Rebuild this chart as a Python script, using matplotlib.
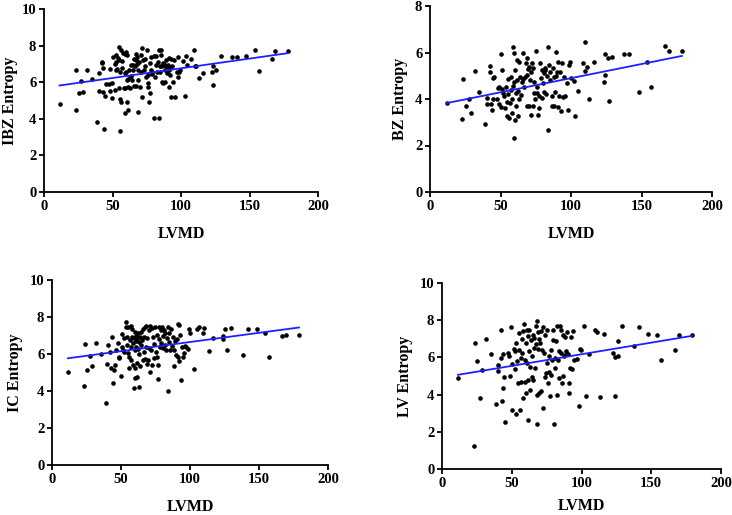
import matplotlib
matplotlib.use("Agg")
import matplotlib.pyplot as plt
import numpy as np

# ---------------- data ----------------
ibz_x = [11.4, 23, 23.4, 25.3, 27.3, 28.7, 31.6, 35, 39, 40, 40, 42, 42.6, 43.3, 43.5, 43.3, 44.3, 45, 47.2, 48,
         48.2, 49.4, 49.9, 50.6, 51.8, 52, 52.3, 52.5, 52.8, 53.3, 54.3, 54.5, 54.7, 55, 55.2, 55.7, 55.7, 56, 56.2, 56.7,
         57, 57.7, 58.2, 58.9, 58.9, 59.1, 59.4, 59.6, 60.1, 60.3, 60.8, 60.8, 61, 61.3, 61.6, 62, 62.5, 62.8, 63.3, 63.7,
         64.2, 64.7, 65.2, 65.7, 65.9, 66.7, 66.9, 67.2, 67.4, 67.9, 68.1, 68.4, 68.6, 68.9, 69.3, 69.8, 70.6, 71, 71.5, 71.8,
         72.5, 72.7, 73.5, 74, 74.7, 75.4, 75.7, 76.2, 76.2, 76.6, 77.1, 77.6, 78.1, 78.3, 78.6, 79, 80, 80, 80.8, 81.5,
         82, 82.5, 83, 83.7, 83.9, 84.4, 84.7, 85.2, 85.6, 86.1, 86.4, 86.9, 87.1, 87.6, 88.1, 88.3, 88.8, 89.3, 89.8, 90,
         90.5, 91, 91.2, 91.5, 92, 92.2, 92.5, 92.9, 93.4, 94.2, 94.9, 95.9, 97.1, 97.6, 98, 98.5, 99.3, 101.5, 102.7, 103.4,
         104.4, 107, 109.5, 110, 111.2, 112.9, 116, 122.9, 123.4, 123.6, 125.8, 129, 137.2, 140.9, 147.7, 153.8, 156.7, 166.7, 168.9, 178.3]
ibz_y = [4.79, 4.48, 6.65, 5.39, 6.07, 5.48, 6.69, 6.18, 3.82, 6.51, 5.52, 7.11, 7.04, 5.47, 3.46, 6.80, 5.27, 5.89, 5.89, 5.54,
         6.71, 5.94, 5.14, 7.37, 7.02, 5.58, 6.67, 7.48, 7.13, 6.71, 7.31, 7.90, 5.67, 7.22, 6.56, 5.10, 3.35, 4.94, 7.75, 7.15,
         6.76, 7.60, 5.69, 7.55, 6.53, 5.70, 4.30, 6.58, 7.64, 4.90, 6.14, 7.51, 6.20, 5.76, 4.48, 6.65, 5.67, 6.31, 6.93, 6.34,
         6.12, 6.64, 6.93, 7.28, 5.80, 6.91, 5.80, 7.53, 7.20, 7.35, 7.00, 6.67, 4.39, 6.14, 7.08, 5.76, 6.58, 7.46, 7.86, 5.21,
         7.22, 6.67, 6.86, 7.26, 6.31, 7.77, 5.76, 6.40, 5.94, 4.92, 5.43, 7.04, 7.40, 6.67, 6.45, 6.58, 7.44, 4.02, 6.27, 6.95,
         7.44, 6.54, 7.11, 4.04, 7.77, 6.86, 6.58, 7.48, 7.77, 6.03, 6.86, 7.04, 5.94, 6.98, 6.67, 6.03, 6.86, 7.22, 6.53, 6.86,
         6.93, 6.64, 5.76, 7.33, 6.76, 6.40, 5.21, 7.29, 6.86, 6.03, 7.22, 5.17, 6.58, 6.27, 7.37, 6.54, 6.67, 7.18, 5.25, 7.44,
         6.95, 7.26, 7.77, 6.89, 6.91, 6.22, 6.53, 6.58, 6.86, 5.83, 6.64, 7.44, 7.35, 7.40, 7.44, 7.77, 6.62, 7.26, 7.70, 7.71]
ibz_fit = [0.0106, 5.70]   # slope, intercept

bz_x = [11.8, 23, 23.7, 25.6, 27.5, 28.9, 32, 35, 39.3, 40.2, 40.5, 42.4, 42.6, 43.5, 43.8, 44.5, 45, 45.7, 47.3, 48.3,
        48.8, 49.2, 50, 50.4, 51, 51.4, 51.8, 52.5, 53.3, 53.7, 54.4, 54.7, 55.1, 55.6, 56.1, 56.8, 57.3, 57.8, 58, 58.5,
        59, 59.2, 59.4, 59.6, 59.9, 60.1, 60.4, 60.9, 61.3, 61.5, 62, 62.2, 62.7, 63.2, 63.4, 63.9, 64.4, 65.1, 65.8, 66.3,
        66.7, 67.2, 67.9, 68.6, 68.6, 69.1, 69.6, 70, 70.5, 71, 71.5, 71.9, 72.2, 72.7, 73.1, 73.6, 74.1, 74.8, 75.3, 75.7,
        76.2, 76.9, 77.4, 77.6, 78.1, 78.6, 79.1, 79.5, 80, 80.5, 80.9, 81.4, 81.9, 82.6, 83.1, 83.8, 84, 84.5, 85, 85.4,
        86.2, 86.6, 87.1, 87.6, 88, 88.8, 89.2, 89.7, 90.2, 90.7, 91.1, 91.6, 92.3, 93, 93.5, 94, 94.7, 95.4, 97.5, 98.2,
        98.7, 99.6, 99.9, 102.2, 102.9, 105.3, 108.4, 109.6, 110, 111.2, 113.1, 116.4, 123.1, 124, 124.3, 126.2, 126.6, 129.2, 137.3, 141.3,
        147.9, 153.8, 156.7, 166.9, 169.2, 178.7]
bz_y = [3.81, 3.15, 4.85, 3.68, 4.02, 3.38, 5.22, 4.28, 2.93, 4.06, 3.79, 5.14, 5.42, 3.79, 3.53, 3.99, 4.89, 4.96, 3.99, 4.46,
        4.53, 3.79, 5.92, 3.65, 4.41, 5.25, 4.25, 4.11, 3.61, 4.53, 3.89, 3.25, 4.85, 4.22, 3.18, 3.82, 4.39, 4.96, 3.39, 4.01,
        4.56, 6.25, 5.99, 4.75, 2.32, 3.10, 5.25, 4.25, 3.68, 5.68, 4.82, 3.29, 4.35, 3.99, 5.61, 4.96, 4.18, 4.75, 5.96, 4.85,
        4.51, 4.93, 5.54, 5.75, 3.68, 5.04, 5.28, 3.71, 5.39, 4.82, 5.18, 3.32, 5.54, 5.32, 3.71, 4.75, 4.25, 3.99, 6.08, 4.51,
        4.25, 3.32, 4.11, 3.61, 5.54, 4.89, 4.04, 5.25, 4.68, 5.11, 4.28, 5.32, 5.25, 4.22, 5.00, 6.25, 2.67, 5.47, 4.82, 5.18,
        3.71, 4.11, 5.32, 4.93, 3.68, 4.32, 5.00, 6.04, 5.18, 5.61, 3.65, 4.11, 5.14, 3.49, 5.54, 4.08, 4.93, 4.11, 4.68, 3.53,
        5.47, 5.57, 4.89, 4.78, 3.25, 4.35, 5.54, 6.47, 5.22, 5.39, 4.01, 5.60, 4.75, 5.92, 5.04, 5.75, 3.92, 5.82, 5.94, 5.94,
        4.29, 5.59, 4.53, 6.29, 6.07, 6.07]
bz_fit = [0.01216, 3.68]

ic_x = [11.6, 22.9, 23.6, 25.3, 27.5, 28.7, 31.8, 35.2, 38.8, 40, 40.5, 41.9, 43.1, 43.6, 43.9, 44.8, 45.3, 46.5, 47.7, 48.2,
        48.9, 49.9, 50.4, 50.8, 51.3, 52, 52.5, 53.3, 53.7, 54, 54.5, 54.9, 55.2, 55.7, 56.1, 56.4, 56.9, 57.3, 57.6, 58.1,
        58.3, 58.6, 58.8, 59.3, 59.5, 59.8, 60, 60.2, 60.5, 60.7, 61, 61.2, 61.4, 61.7, 61.9, 62.2, 62.4, 62.7, 62.9, 63.4,
        63.9, 64.1, 64.6, 64.8, 65.3, 65.8, 66.3, 66.5, 67, 67.5, 67.7, 68.2, 68.4, 68.9, 69.2, 69.6, 70.1, 70.4, 70.8, 71.3,
        71.8, 72.3, 72.8, 73.3, 73.7, 74.2, 74.7, 75.4, 75.9, 76.4, 76.9, 77.1, 77.3, 77.8, 78.3, 78.8, 79.3, 79.8, 80.2, 80.7,
        81.2, 81.7, 82.2, 82.7, 83.4, 83.9, 84.3, 84.6, 85.1, 85.5, 86.3, 86.7, 87.5, 88.2, 88.7, 89.2, 89.6, 90.4, 91.1, 91.6,
        91.8, 92.3, 93, 93.5, 94, 94.7, 95.4, 96.4, 97.1, 98.3, 99, 100, 103.1, 104.8, 106.3, 109.2, 110.4, 113.5, 116.9, 123.6,
        124.1, 125.5, 126.7, 129.6, 138.1, 141.7, 148.2, 154.2, 157.3, 167, 169.4, 179]
ic_y = [5.03, 4.27, 6.52, 5.14, 5.89, 5.37, 6.58, 6.02, 3.33, 5.44, 6.49, 6.13, 5.23, 6.90, 4.43, 5.14, 5.39, 6.22, 6.61, 5.86,
        5.77, 4.81, 7.06, 6.40, 6.22, 6.85, 6.13, 7.75, 7.44, 6.49, 6.94, 7.48, 6.04, 5.86, 5.23, 6.76, 6.37, 5.68, 7.51, 6.94,
        7.33, 5.41, 6.58, 6.85, 4.14, 7.21, 6.22, 5.23, 4.72, 6.72, 6.97, 6.40, 5.50, 6.85, 4.74, 6.25, 7.12, 4.23, 6.67, 6.00,
        6.90, 5.35, 7.21, 6.49, 6.76, 5.68, 7.35, 6.94, 6.13, 7.44, 5.73, 7.51, 6.40, 5.44, 6.85, 5.68, 7.30, 6.31, 7.51, 5.01,
        6.22, 7.39, 5.41, 6.90, 5.77, 6.52, 7.44, 6.13, 7.03, 5.86, 5.41, 4.67, 6.79, 7.44, 6.40, 7.30, 6.61, 7.48, 6.31, 6.97,
        7.30, 6.49, 7.12, 6.22, 6.85, 7.48, 4.00, 6.67, 7.15, 6.22, 7.33, 6.45, 6.94, 5.35, 6.22, 6.72, 5.95, 6.79, 7.62, 5.86,
        5.64, 7.55, 7.03, 4.59, 6.40, 5.86, 6.04, 6.43, 6.40, 6.25, 7.33, 7.15, 5.17, 7.33, 7.44, 7.15, 7.39, 6.18, 6.88, 6.97,
        6.81, 7.33, 6.22, 7.41, 5.95, 7.37, 7.33, 7.15, 5.86, 6.99, 7.03, 7.03]
ic_fit = [0.00993, 5.655]

lv_x = [11.5, 22.8, 23.5, 25.1, 27.3, 28.7, 31.4, 35, 38.8, 40, 40.5, 42.2, 42.6, 43.1, 43.4, 43.8, 44.3, 45, 47.4, 47.9,
        48.6, 49.8, 50.1, 50.5, 51.3, 52, 52.5, 52.9, 53.4, 53.9, 54.4, 54.9, 55.3, 55.8, 56.3, 56.8, 57.2, 57.7, 58.2, 58.4,
        58.7, 59.2, 59.4, 59.9, 60.1, 60.6, 60.9, 61.3, 61.6, 62, 62.3, 62.5, 63, 63.2, 63.7, 64.2, 64.7, 65.1, 65.4, 65.9,
        66.3, 66.6, 67.1, 67.3, 67.8, 68, 68.3, 68.5, 69, 69.5, 69.7, 70.2, 70.7, 71.1, 71.6, 72.1, 72.6, 73.1, 73.5, 74,
        74.5, 75, 75.4, 75.9, 76.4, 76.9, 77.4, 77.8, 78.3, 78.8, 79.3, 79.8, 80.2, 80.7, 81.2, 81.7, 82.2, 82.6, 83.1, 83.6,
        84.1, 84.6, 85, 85.5, 86, 86.5, 86.9, 87.4, 87.9, 88.4, 88.9, 89.3, 90.1, 90.8, 91.3, 91.7, 92.2, 92.9, 93.7, 94.6,
        96.5, 98, 98.9, 99.9, 102, 103, 105.6, 109.7, 110.9, 113.3, 116.4, 122.9, 124.1, 124.3, 126, 126.5, 129.3, 137.7, 141.3, 148,
        154, 157.1, 167.2, 170.1, 179.2]
lv_y = [4.90, 1.24, 6.80, 5.78, 3.81, 5.33, 6.98, 6.19, 3.48, 5.60, 5.28, 7.48, 5.96, 3.68, 6.19, 4.34, 4.92, 2.55, 6.23, 6.09,
        5.01, 7.63, 3.18, 5.66, 6.44, 6.32, 5.37, 6.80, 2.96, 5.82, 4.61, 7.31, 6.41, 3.18, 5.96, 4.70, 6.98, 6.23, 3.81, 7.40,
        7.81, 5.87, 4.70, 6.77, 4.08, 7.48, 5.69, 7.16, 2.64, 4.79, 6.32, 7.45, 4.26, 5.48, 6.95, 4.97, 6.05, 7.22, 4.79, 6.50,
        7.04, 5.44, 7.67, 6.71, 7.94, 3.99, 2.42, 6.44, 7.34, 6.98, 4.08, 6.77, 4.17, 7.40, 6.41, 7.63, 3.27, 6.23, 4.97, 7.22,
        5.15, 5.69, 7.48, 4.61, 6.05, 5.24, 3.90, 6.41, 5.06, 5.87, 7.48, 6.95, 2.42, 5.44, 5.96, 6.86, 7.70, 3.99, 5.87, 6.32,
        4.88, 7.70, 7.48, 6.23, 4.61, 5.01, 7.22, 6.05, 6.14, 7.09, 6.32, 7.34, 6.18, 4.11, 4.65, 5.44, 7.09, 5.35, 7.40, 5.87,
        5.91, 3.39, 6.44, 6.41, 7.67, 3.94, 6.19, 7.48, 7.34, 3.86, 7.27, 6.23, 6.00, 3.90, 6.86, 6.09, 7.70, 6.59, 7.63, 7.25,
        7.22, 5.87, 6.41, 7.22, 7.22]
lv_fit = [0.01249, 4.92]

x_label = "LVMD"
y_labels = ["IBZ Entropy", "BZ Entropy", "IC Entropy", "LV Entropy"]
x_ticks = [0, 50, 100, 150, 200]
y_ticks_10 = [0, 2, 4, 6, 8, 10]
y_ticks_8 = [0, 2, 4, 6, 8]

# ---------------- figure ----------------
W, H = 732, 515
fig = plt.figure(figsize=(W / 100, H / 100), dpi=100)
font = "Liberation Serif"

def px_axes(left, right, top, bottom):
    return fig.add_axes([left / W, 1 - bottom / H, (right - left) / W, (bottom - top) / H])

panels = [
    dict(box=(44, 318, 9, 192), x=ibz_x, y=ibz_y, fit=ibz_fit, ylab=y_labels[0], ymax=10, yt=y_ticks_10,
         ylc=-0.095, xlc=-0.186),
    dict(box=(430, 712, 6, 192), x=bz_x, y=bz_y, fit=bz_fit, ylab=y_labels[1], ymax=8, yt=y_ticks_8,
         ylc=-0.079, xlc=-0.183),
    dict(box=(52, 328, 280, 465), x=ic_x, y=ic_y, fit=ic_fit, ylab=y_labels[2], ymax=10, yt=y_ticks_10,
         ylc=-0.105, xlc=-0.184),
    dict(box=(442, 721, 283, 469), x=lv_x, y=lv_y, fit=lv_fit, ylab=y_labels[3], ymax=10, yt=y_ticks_10,
         ylc=-0.104, xlc=-0.156),
]

for p in panels:
    ax = px_axes(*p["box"])
    xs = np.array(p["x"])
    ys = np.array(p["y"])
    ax.scatter(xs, ys, s=11, color="black", zorder=3, clip_on=False, linewidths=0)
    xx = np.array([xs.min(), xs.max()])
    ax.plot(xx, p["fit"][0] * xx + p["fit"][1], color="#1f1fff", lw=1.3, zorder=4)
    ax.set_xlim(0, 200)
    ax.set_ylim(0, p["ymax"])
    ax.set_xticks(x_ticks)
    ax.set_yticks(p["yt"])
    for s in ("top", "right"):
        ax.spines[s].set_visible(False)
    for s in ("left", "bottom"):
        ax.spines[s].set_linewidth(1.3)
    ax.tick_params(direction="out", length=3.5, width=1.3, labelsize=10.5, pad=2)
    for lab in ax.get_xticklabels() + ax.get_yticklabels():
        lab.set_fontfamily(font)
        lab.set_fontweight("bold")
    ax.set_xlabel(x_label, fontfamily=font, fontweight="bold", fontsize=11.5)
    ax.set_ylabel(p["ylab"], fontfamily=font, fontweight="bold", fontsize=11.5)
    ax.yaxis.set_label_coords(p["ylc"], 0.5)
    ax.xaxis.set_label_coords(0.5, p["xlc"])

fig.savefig("out.png", dpi=100)
